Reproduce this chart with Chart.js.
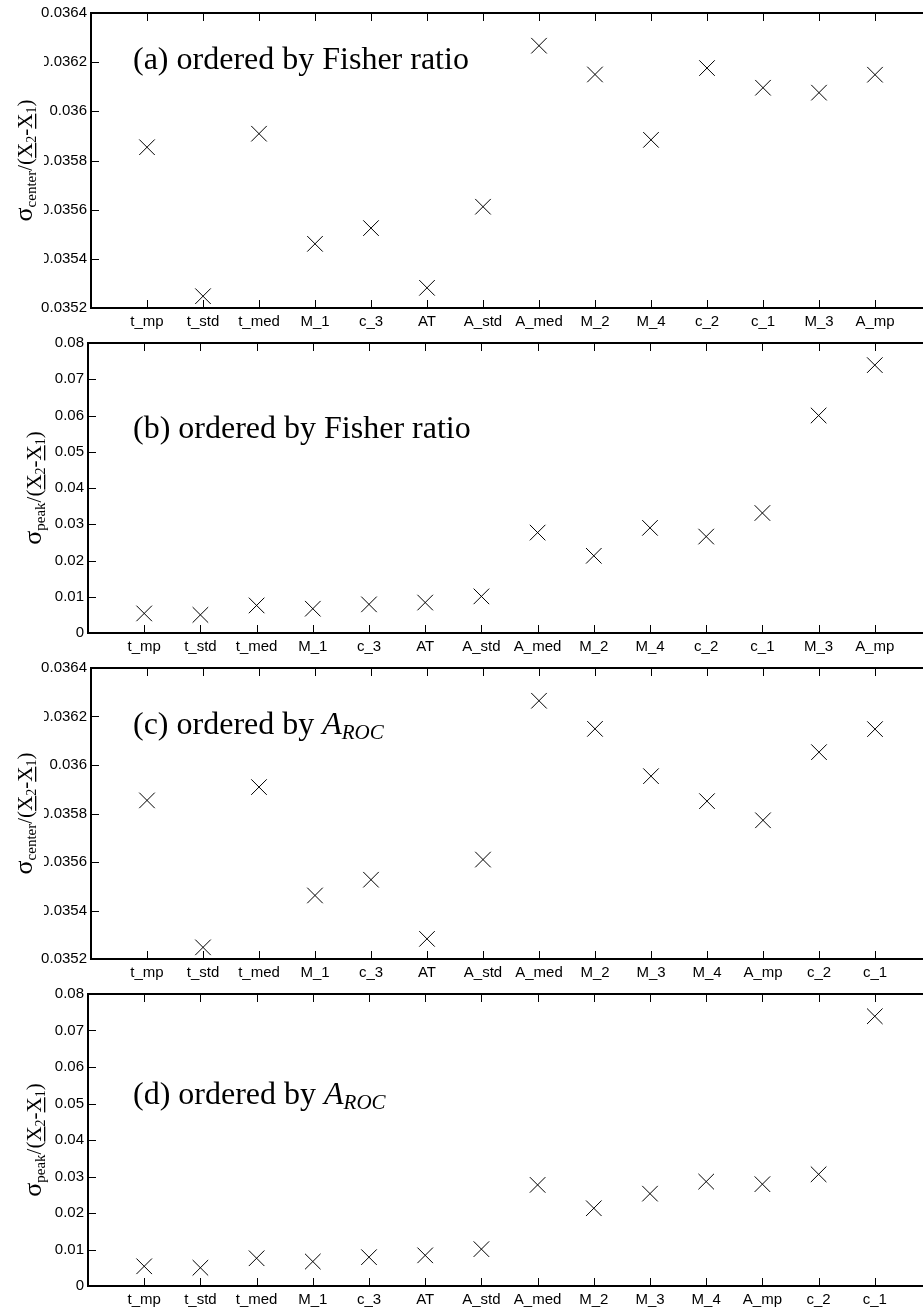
<!DOCTYPE html>
<html>
<head>
<meta charset="utf-8">
<script src="https://cdn.jsdelivr.net/npm/chart.js@4"></script>
<style>
  html, body { margin: 0; padding: 0; background: #fff; overflow: hidden; width: 923px; height: 1310px; }
  canvas { position: absolute; left: 0; }
</style>
</head>
<body>
<canvas id="pa" width="945" height="330" style="top:0px"></canvas>
<canvas id="pb" width="945" height="325" style="top:330px"></canvas>
<canvas id="pc" width="945" height="326" style="top:655px"></canvas>
<canvas id="pd" width="945" height="327" style="top:981px"></canvas>
<script>
// feature order by Fisher ratio and by A_ROC
var fisherOrder = ["t_mp", "t_std", "t_med", "M_1", "c_3", "AT", "A_std", "A_med", "M_2", "M_4", "c_2", "c_1", "M_3", "A_mp"];
var arocOrder = ["t_mp", "t_std", "t_med", "M_1", "c_3", "AT", "A_std", "A_med", "M_2", "M_3", "M_4", "A_mp", "c_2", "c_1"];

// sigma_center / (X2 - X1)
var centerFisher = [0.035854, 0.035248, 0.035909, 0.035461, 0.035525, 0.035282, 0.035612, 0.036267, 0.036150, 0.035884, 0.036176, 0.036096, 0.036076, 0.036149];
var centerAroc = [0.035854, 0.035248, 0.035909, 0.035462, 0.035527, 0.035283, 0.035610, 0.036265, 0.036149, 0.035954, 0.035851, 0.035772, 0.036053, 0.036148];

// sigma_peak / (X2 - X1)
var peakFisher = [0.0054, 0.0050, 0.0076, 0.0067, 0.0079, 0.0084, 0.0101, 0.0277, 0.0213, 0.0290, 0.0266, 0.0331, 0.0600, 0.0739];
var peakAroc = [0.0054, 0.0050, 0.0076, 0.0067, 0.0079, 0.0084, 0.0101, 0.0277, 0.0213, 0.0253, 0.0286, 0.0279, 0.0306, 0.0739];

var centerTicks = [0.0352, 0.0354, 0.0356, 0.0358, 0.036, 0.0362, 0.0364];
var peakTicks = [0, 0.01, 0.02, 0.03, 0.04, 0.05, 0.06, 0.07, 0.08];

var SANS = '"Liberation Sans", Arial, Helvetica, sans-serif';
var SERIF = '"Liberation Serif", "Times New Roman", Times, serif';

// draw a row of text pieces (font / vertical shift / underline) starting at x
function drawPieces(ctx, pieces, x, y) {
  pieces.forEach(function (p) {
    ctx.font = p.font;
    var w = ctx.measureText(p.t).width;
    ctx.fillText(p.t, x, y + (p.dy || 0));
    if (p.under) {
      ctx.fillRect(x, y + 3, w, 1.3);
    }
    x += w;
  });
}

function piecesWidth(ctx, pieces) {
  var w = 0;
  pieces.forEach(function (p) { ctx.font = p.font; w += ctx.measureText(p.t).width; });
  return w;
}

function yTitlePieces(sub) {
  return [
    { t: "\u03c3", font: "26px " + SERIF },
    { t: sub, font: "15px " + SERIF, dy: 4 },
    { t: "/(", font: "21px " + SERIF },
    { t: "X", font: "21px " + SERIF, under: true },
    { t: "2", font: "14px " + SERIF, dy: 4 },
    { t: "-", font: "21px " + SERIF },
    { t: "X", font: "21px " + SERIF, under: true },
    { t: "1", font: "14px " + SERIF, dy: 4 },
    { t: ")", font: "21px " + SERIF }
  ];
}

// inward ticks, axes frame, y title and the panel caption
var framePlugin = {
  id: "frame",
  beforeDatasetsDraw: function (chart, args, o) {
    var ctx = chart.ctx, a = chart.chartArea;
    var xs = chart.scales.x, ys = chart.scales.y;
    ctx.save();
    ctx.strokeStyle = "#000";
    ctx.lineWidth = 1;
    ctx.beginPath();
    xs.ticks.forEach(function (t) {
      var px = Math.round(xs.getPixelForValue(t.value)) + 0.5;
      ctx.moveTo(px, a.top); ctx.lineTo(px, a.top + 8);
      ctx.moveTo(px, a.bottom); ctx.lineTo(px, a.bottom - 8);
    });
    ys.ticks.forEach(function (t) {
      var py = Math.round(ys.getPixelForValue(t.value)) + 0.5;
      ctx.moveTo(a.left, py); ctx.lineTo(a.left + 8, py);
      ctx.moveTo(a.right, py); ctx.lineTo(a.right - 8, py);
    });
    ctx.stroke();
    ctx.lineWidth = 2;
    ctx.strokeRect(a.left, a.top, a.right - a.left, a.bottom - a.top);
    ctx.restore();
  },
  afterDraw: function (chart, args, o) {
    var ctx = chart.ctx, a = chart.chartArea;
    ctx.save();
    if (o.titleBox) {
      ctx.fillStyle = "#fff";
      ctx.fillRect(0, a.top + o.titleBox.from, o.titleBox.width, a.bottom - o.titleBox.to - a.top - o.titleBox.from);
    }
    ctx.fillStyle = "#000";
    ctx.textBaseline = "alphabetic";
    ctx.textAlign = "left";
    // rotated y axis title
    var tp = yTitlePieces(o.sub);
    var tw = piecesWidth(ctx, tp);
    ctx.translate(o.titleX, (a.top + a.bottom) / 2);
    ctx.rotate(-Math.PI / 2);
    drawPieces(ctx, tp, -tw / 2, 0);
    ctx.setTransform(1, 0, 0, 1, 0, 0);
    // caption inside the axes
    drawPieces(ctx, o.caption, 133, a.top + o.captionY);
    ctx.restore();
  }
};

function fmt(v) {
  return String(+v.toFixed(4));
}

function buildPanel(id, cats, vals, yTicks, cfg) {
  var points = vals.map(function (v, i) { return { x: i + 1, y: v }; });
  return new Chart(document.getElementById(id), {
    type: "scatter",
    data: {
      datasets: [{
        data: points,
        pointStyle: "crossRot",
        radius: 11,
        hoverRadius: 11,
        borderColor: "#000",
        backgroundColor: "#000",
        borderWidth: 1
      }]
    },
    options: {
      responsive: false,
      animation: false,
      events: [],
      layout: { padding: { top: cfg.top, right: 14, left: 0, bottom: 0 } },
      plugins: {
        legend: { display: false },
        tooltip: { enabled: false },
        frame: cfg
      },
      scales: {
        x: {
          type: "linear",
          min: 0,
          max: cats.length + 1,
          grid: { display: false, drawTicks: false },
          border: { display: false },
          afterBuildTicks: function (s) {
            s.ticks = cats.map(function (c, i) { return { value: i + 1 }; });
          },
          afterFit: function (s) { s.height = 22; },
          ticks: {
            autoSkip: false,
            maxRotation: 0,
            padding: 5,
            color: "#000",
            font: { family: SANS, size: 15 },
            callback: function (v) { return cats[v - 1]; }
          }
        },
        y: {
          min: yTicks[0],
          max: yTicks[yTicks.length - 1],
          grid: { display: false, drawTicks: false },
          border: { display: false },
          afterBuildTicks: function (s) {
            s.ticks = yTicks.map(function (v) { return { value: v }; });
          },
          afterFit: function (s) { s.width = cfg.left; },
          ticks: {
            padding: 4,
            color: "#000",
            font: { family: SANS, size: 15 },
            callback: function (v) { return fmt(v); }
          }
        }
      }
    },
    plugins: [framePlugin]
  });
}

function fisherCaption(tag) {
  return [{ t: tag + " ordered by Fisher ratio", font: "32px " + SERIF }];
}
function arocCaption(tag) {
  return [
    { t: tag + " ordered by ", font: "32px " + SERIF },
    { t: "A", font: "italic 32px " + SERIF },
    { t: "ROC", font: "italic 21px " + SERIF, dy: 5 }
  ];
}

buildPanel("pa", fisherOrder, centerFisher, centerTicks, {
  top: 12, left: 91, sub: "center", titleX: 32,
  titleBox: { width: 44, from: 13, to: 18 },
  caption: fisherCaption("(a)"), captionY: 56
});
buildPanel("pb", fisherOrder, peakFisher, peakTicks, {
  top: 8, left: 88, sub: "peak", titleX: 41,
  titleBox: null,
  caption: fisherCaption("(b)"), captionY: 95
});
buildPanel("pc", arocOrder, centerAroc, centerTicks, {
  top: 9, left: 91, sub: "center", titleX: 32,
  titleBox: { width: 44, from: 13, to: 18 },
  caption: arocCaption("(c)"), captionY: 66
});
buildPanel("pd", arocOrder, peakAroc, peakTicks, {
  top: 9, left: 88, sub: "peak", titleX: 41,
  titleBox: { width: 55, from: 50, to: 16 },
  caption: arocCaption("(d)"), captionY: 110
});
</script>
</body>
</html>
